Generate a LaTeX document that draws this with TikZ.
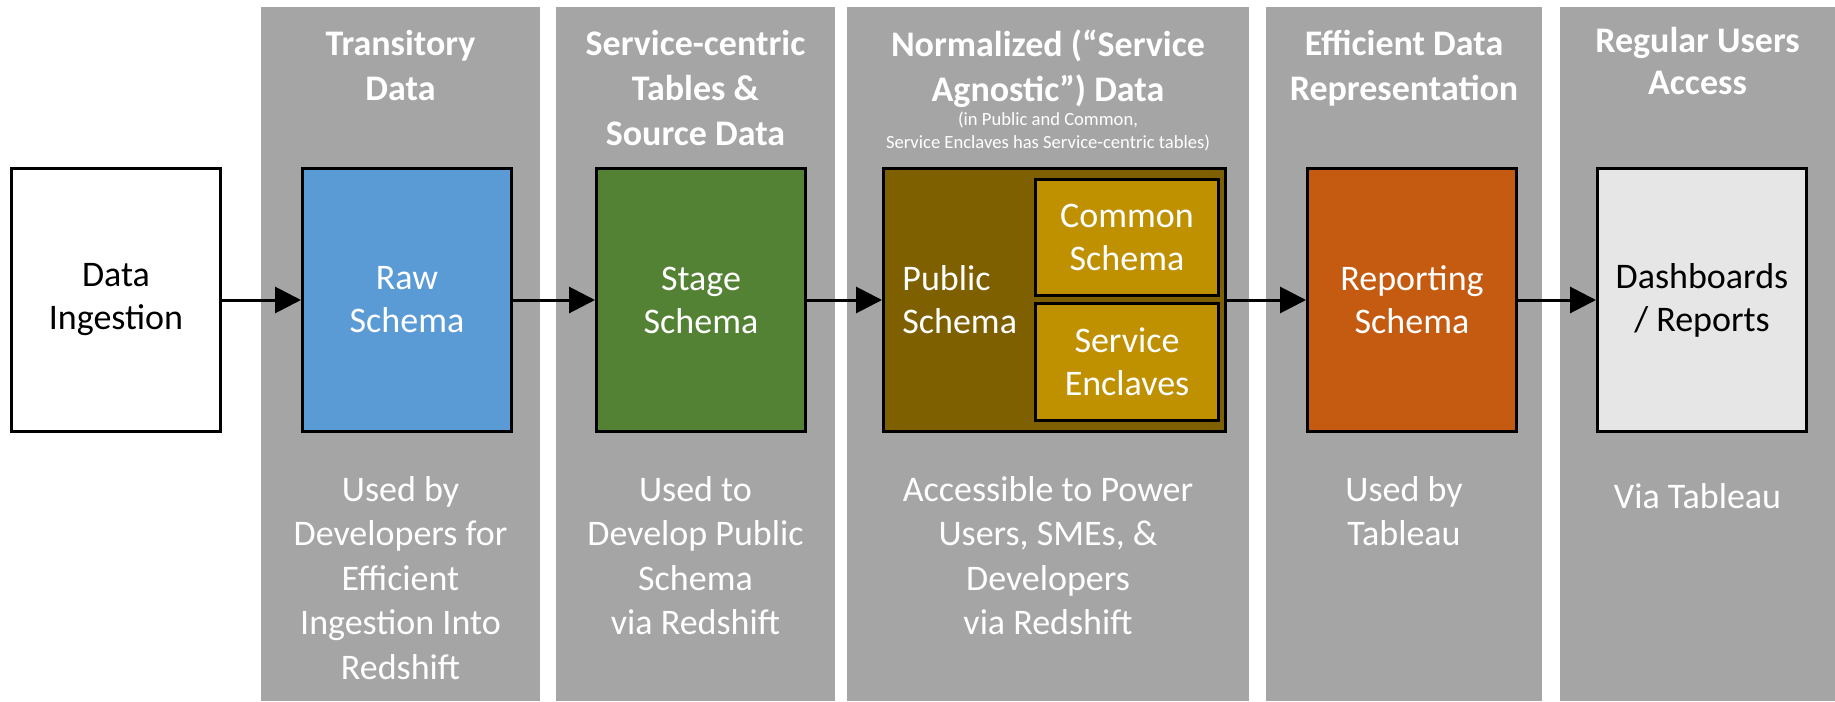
\documentclass[tikz,border=0pt]{standalone}
\usepackage{fontspec}
\setmainfont{Carlito}
\usepackage{tikz}
\usetikzlibrary{arrows.meta, positioning}
\definecolor{lanegray}{HTML}{A5A5A5}
\definecolor{rawblue}{HTML}{5B9BD5}
\definecolor{stagegreen}{HTML}{548235}
\definecolor{publicbrown}{HTML}{7F6000}
\definecolor{commongold}{HTML}{BF9000}
\definecolor{reportorange}{HTML}{C55A11}
\definecolor{dashgray}{HTML}{E7E6E6}
\tikzset{
  lane/.style={rectangle, fill=lanegray, minimum height=347pt, inner sep=0pt},
  block/.style={rectangle, draw=black, line width=1.3pt, minimum width=104.7pt,
    minimum height=131.7pt, inner sep=0pt, align=center,
    font=\fontsize{18}{21.5}\selectfont},
  schemablock/.style={block, text=white},
  lanetitle/.style={text=white, align=center, inner sep=0pt,
    font=\fontsize{18}{22.5}\selectfont\bfseries},
  lanenote/.style={text=white, align=center, inner sep=0pt,
    font=\fontsize{18}{22.2}\selectfont},
  arrow/.style={-{Triangle[length=13pt, width=13pt]}, line width=1.5pt, color=black},
}
\begin{document}
\begin{tikzpicture}[x=0.5pt, y=-0.5pt]
  \fill[white] (0,0) rectangle (1835,701);
  \useasboundingbox (0,0) rectangle (1835,701);

  % grey lanes
  \node[lane, minimum width=139.5pt] (lane1) at (400.5,354) {};
  \node[lane, minimum width=139.5pt] (lane2) at (695.5,354) {};
  \node[lane, minimum width=201pt] (lane3) at (1048,354) {};
  \node[lane, minimum width=138pt] (lane4) at (1404,354) {};
  \node[lane, minimum width=137.5pt] (lane5) at (1697.5,354) {};

  % lane titles
  \node[lanetitle, below=11.5pt of lane1.north] (title1) {Transitory\\Data};
  \node[lanetitle, below=11.5pt of lane2.north] (title2) {Service-centric\\Tables \&\\Source Data};
  \node[lanetitle, below=11.5pt of lane3.north] (title3) {Normalized (“Service\\Agnostic”) Data};
  \node[text=white, align=center, inner sep=0pt, font=\fontsize{9.3}{11.8}\selectfont,
        below=1.5pt of title3] (subtitle3) {(in Public and Common,\\Service Enclaves has Service-centric tables)};
  \node[lanetitle, below=11.5pt of lane4.north] (title4) {Efficient Data\\Representation};
  \node[lanetitle, below=10pt of lane5.north, font=\fontsize{18}{21}\selectfont\bfseries] (title5) {Regular Users\\Access};

  % schema blocks
  \node[block, fill=white] (ingest) at (116,300) {Data\\Ingestion};
  \node[schemablock, fill=rawblue, right=39.5pt of ingest] (raw) {Raw\\Schema};
  \node[schemablock, fill=stagegreen, right=41pt of raw] (stage) {Stage\\Schema};
  \node[block, fill=publicbrown, minimum width=171.2pt, right=37.5pt of stage] (public) {};
  \node[schemablock, fill=commongold, minimum width=91.7pt, minimum height=58.2pt,
        anchor=north east] (common) at ([xshift=-3.5pt, yshift=-5.5pt]public.north east) {Common\\Schema};
  \node[schemablock, fill=commongold, minimum width=91.7pt, minimum height=58.7pt,
        anchor=south east] (enclaves) at ([xshift=-3.5pt, yshift=5.5pt]public.south east) {Service\\Enclaves};
  \node[text=white, align=left, anchor=west, inner sep=0pt, font=\fontsize{18}{21.5}\selectfont]
    (publiclabel) at ([xshift=10pt]public.west) {Public\\Schema};
  \node[schemablock, fill=reportorange, right=39.5pt of public] (report) {Reporting\\Schema};
  \node[block, fill=dashgray, right=39pt of report] (dash) {Dashboards\\/ Reports};

  % notes under the blocks
  \node[lanenote, anchor=north, yshift=-21.5pt] (note1) at (lane1 |- raw.south)
    {Used by\\Developers for\\Efficient\\Ingestion Into\\Redshift};
  \node[lanenote, anchor=north, yshift=-21.5pt] (note2) at (lane2 |- stage.south)
    {Used to\\Develop Public\\Schema\\via Redshift};
  \node[lanenote, anchor=north, yshift=-21.5pt] (note3) at (lane3 |- public.south)
    {Accessible to Power\\Users, SMEs, \&\\Developers\\via Redshift};
  \node[lanenote, anchor=north, yshift=-21.5pt] (note4) at (lane4 |- report.south)
    {Used by\\Tableau};
  \node[lanenote, anchor=north, yshift=-25pt] (note5) at (lane5 |- dash.south)
    {Via Tableau};

  \draw[arrow] (ingest) -- (raw);
  \draw[arrow] (raw) -- (stage);
  \draw[arrow] (stage) -- (public);
  \draw[arrow] (public) -- (report);
  \draw[arrow] (report) -- (dash);
\end{tikzpicture}
\end{document}
